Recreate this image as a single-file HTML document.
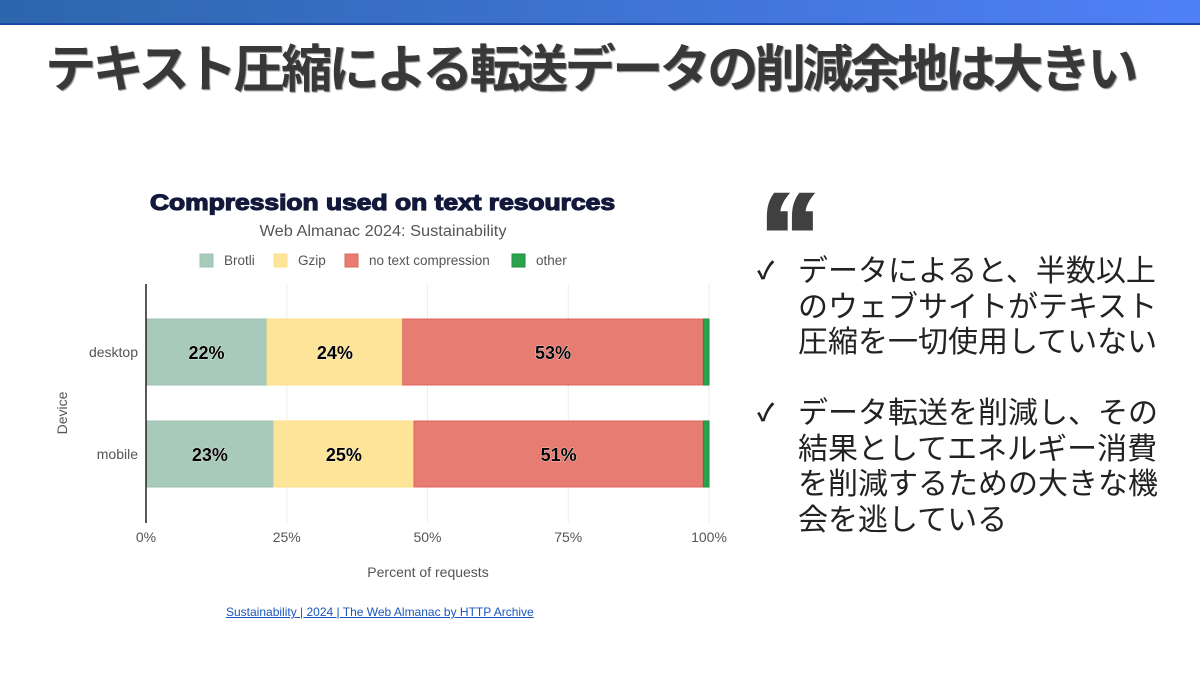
<!DOCTYPE html>
<html><head><meta charset="utf-8"><style>
body{margin:0;width:1200px;height:675px;overflow:hidden;background:#fff;position:relative;font-family:"Liberation Sans","Noto Sans CJK JP",sans-serif}
#topbar{position:absolute;left:0;top:0;width:1200px;height:23px;background:linear-gradient(90deg,#2c66ac,#4f80f8);border-bottom:2px solid #1d4aa8}
#title{position:absolute;left:45px;top:37px;font-size:51px;line-height:66px;font-weight:bold;color:#383838;white-space:nowrap;text-shadow:1px 1px 1px #888;font-family:"Liberation Sans","Noto Sans CJK JP",sans-serif}
#quote{position:absolute;left:760px;top:176px;font-size:120px;line-height:120px;font-weight:bold;color:#404040;-webkit-text-stroke:4px #404040;font-family:"Liberation Sans",sans-serif}
.bullet{position:absolute;left:757px;font-size:30px;line-height:35.5px;color:#222;width:380px}
.bullet .ck{position:absolute;left:0;top:0;font-size:24px;font-weight:bold}
.bullet .tx{position:absolute;left:41px;top:0;white-space:nowrap;font-family:"Liberation Sans","Noto Sans CJK JP",sans-serif}
#link{position:absolute;left:226px;top:605px;font-size:12px;color:#1a56c0;text-decoration:underline;font-family:"Liberation Sans",sans-serif;white-space:nowrap}
</style></head><body>
<div id="topbar"></div>
<div id="title">テキスト圧縮による転送データの削減余地は大きい</div>
<svg id="chart" width="1200" height="675" style="position:absolute;left:0;top:0"></svg>
<div id="quote">“</div>
<div class="bullet" style="top:254px;height:110px"><span class="ck">✓</span><span class="tx">データによると、半数以上<br>のウェブサイトがテキスト<br>圧縮を一切使用していない</span></div>
<div class="bullet" style="top:396px;height:145px"><span class="ck">✓</span><span class="tx">データ転送を削減し、その<br>結果としてエネルギー消費<br>を削減するための大きな機<br>会を逃している</span></div>
<a id="link">Sustainability | 2024 | The Web Almanac by HTTP Archive</a>
<script>
const categories=["desktop","mobile"];
const seriesNames=["Brotli","Gzip","no text compression","other"];
const brotli=[21.5,22.7];
const gzip=[24.1,24.9];
const noComp=[53.4,51.4];
const other=[1.0,1.0];
const ticks=[0,25,50,75,100];
(function(){const t=document.getElementById('title');const w=t.getBoundingClientRect().width;const n=t.textContent.length;t.style.letterSpacing=((1090-w)/n)+'px';})();
const fills=["#a8cabb","#fee499","#e77c73","#2ba24c"];
const strokes=["#9cc2b0","#fde08a","#e0665c","#1e8f3c"];
const svg=document.getElementById('chart');
const NS="http://www.w3.org/2000/svg";
const X0=146,X1=709,TOP=284,BOT=523;
const x=v=>X0+(X1-X0)*v/100;
const bandY=i=>[319,421][i];
const BH=66;
function mk(t,a,p){const e=document.createElementNS(NS,t);for(const k in a)e.setAttribute(k,a[k]);(p||svg).appendChild(e);return e;}
let t=mk('text',{x:150,y:210,'font-size':22,'font-weight':'bold',fill:'#12193a',stroke:'#12193a','stroke-width':1.2,textLength:465,lengthAdjust:'spacingAndGlyphs','font-family':'Liberation Sans, sans-serif'});
t.textContent='Compression used on text resources';
t=mk('text',{x:383,y:236,'text-anchor':'middle','font-size':15.5,fill:'#555',textLength:247,lengthAdjust:'spacingAndGlyphs','font-family':'Liberation Sans, sans-serif'});
t.textContent='Web Almanac 2024: Sustainability';
const legX=[200,274,345,512];
seriesNames.forEach((n,i)=>{
 const g=mk('g',{});
 
 mk('rect',{x:legX[i],y:254,width:13,height:13,fill:fills[i],stroke:strokes[i]},g);
 const tt=mk('text',{x:legX[i]+24,y:265,'font-size':13.5,fill:'#555','font-family':'Liberation Sans, sans-serif'},g);tt.textContent=n;
});
ticks.forEach(v=>{
 if(v>0){const l=mk('line',{x1:x(v),x2:x(v),y1:TOP,y2:BOT,stroke:'#eee'});}
 const tt=mk('text',{x:x(v),y:542,'text-anchor':'middle','font-size':14,fill:'#555','font-family':'Liberation Sans, sans-serif'});
 tt.textContent=v+'%';
});
const series=[brotli,gzip,noComp,other];
categories.forEach((c,i)=>{
 let acc=0;
 series.forEach((s,j)=>{
  const v=s[i];
  const r=mk('rect',{x:x(acc),y:bandY(i),width:x(acc+v)-x(acc),height:BH,fill:fills[j],stroke:strokes[j],'stroke-width':1});
  
  if(j<3){const tt=mk('text',{x:(x(acc)+x(acc+v))/2,y:bandY(i)+BH/2+7,'text-anchor':'middle','font-size':18,'font-weight':'bold',fill:'#000',stroke:'#fff','stroke-width':0.6,'paint-order':'stroke','font-family':'Liberation Sans, sans-serif'});
   tt.textContent=Math.round(v)+'%';}
  acc+=v;
 });
 const cl=mk('text',{x:138,y:bandY(i)+BH/2+5,'text-anchor':'end','font-size':14,fill:'#555','font-family':'Liberation Sans, sans-serif'});
 cl.textContent=c;
});
const ax=mk('line',{x1:X0,x2:X0,y1:TOP,y2:BOT,stroke:'#222','stroke-width':1.5});

t=mk('text',{x:428,y:577,'text-anchor':'middle','font-size':14,fill:'#555','font-family':'Liberation Sans, sans-serif'});
t.textContent='Percent of requests';
t=mk('text',{x:67,y:413,'text-anchor':'middle','font-size':14,fill:'#555',transform:'rotate(-90 67 413)','font-family':'Liberation Sans, sans-serif'});
t.textContent='Device';
</script>
</body></html>
